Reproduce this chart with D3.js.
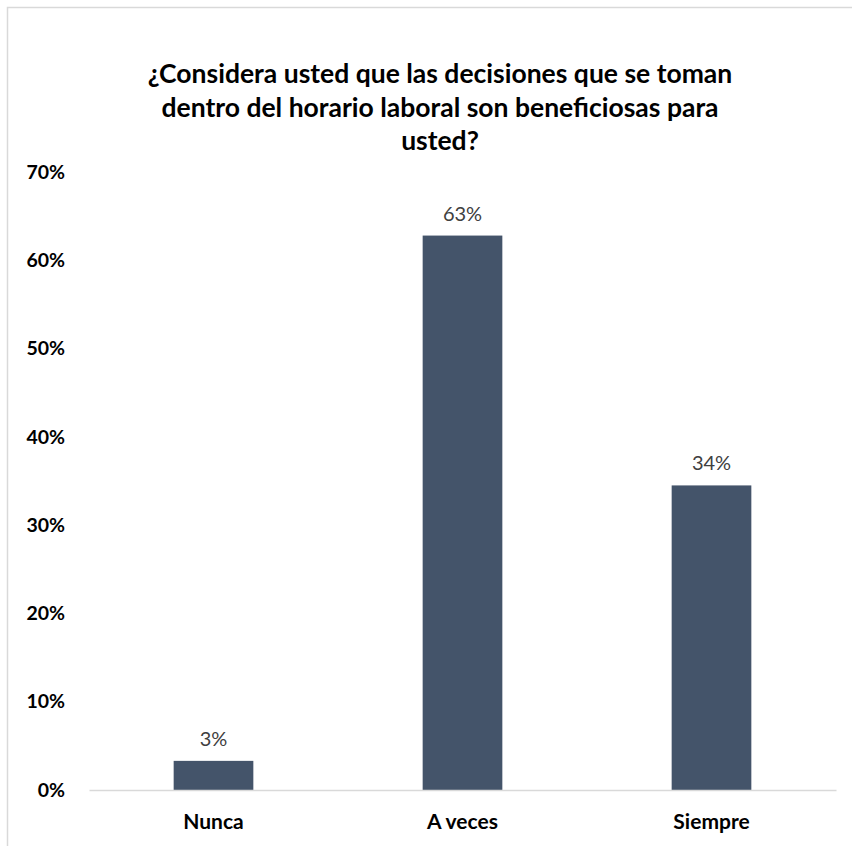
<!DOCTYPE html>
<html>
<head>
<meta charset="utf-8">
<script src="https://cdn.jsdelivr.net/npm/d3@7"></script>
<style>
  body { margin: 0; background: #fff; }
  svg text { font-family: Lato, "Open Sans", sans-serif; }
</style>
</head>
<body>
<svg id="chart" width="852" height="846"></svg>
<script>
// data
const categories = ["Nunca", "A veces", "Siempre"];
const values = [0.033, 0.628, 0.345];
const valueLabels = ["3%", "63%", "34%"];
const yTicks = [0, 0.1, 0.2, 0.3, 0.4, 0.5, 0.6, 0.7];
const titleLines = [
  "¿Considera usted que las decisiones que se toman",
  "dentro del horario laboral son beneficiosas para",
  "usted?"
];

const svg = d3.select("#chart");

// chart frame (runs off the right and bottom edges)
svg.append("rect")
  .attr("x", 7.5).attr("y", 7.5)
  .attr("width", 900).attr("height", 900)
  .attr("fill", "#fff")
  .attr("stroke", "#d9d9d9")
  .attr("stroke-width", 1.5);

// title
svg.append("g")
  .selectAll("text")
  .data(titleLines)
  .enter()
  .append("text")
  .attr("x", 440)
  .attr("y", (d, i) => 83 + i * 33.5)
  .attr("text-anchor", "middle")
  .attr("font-size", 26.5)
  .attr("font-weight", "bold")
  .attr("fill", "#000")
  .text(d => d);

let xScale = d3.scaleBand()
  .domain(categories)
  .range([89, 836])
  .paddingInner(0.68)
  .paddingOuter(0.34);

let yScale = d3.scaleLinear()
  .domain([0, 0.7])
  .range([790, 172]);

// y axis labels
let yAxis = d3.axisLeft(yScale)
  .tickValues(yTicks)
  .tickFormat(d3.format(".0%"))
  .tickSize(0)
  .tickPadding(0);

svg.append("g")
  .attr("transform", "translate(65, 0)")
  .call(yAxis)
  .call(g => g.select(".domain").remove())
  .selectAll("text")
  .attr("font-size", 19.5)
  .attr("font-weight", "bold")
  .attr("fill", "#000")
  .attr("font-family", "Lato, sans-serif");

// bars
svg.append("g")
  .selectAll("rect")
  .data(values)
  .enter()
  .append("rect")
  .attr("x", (d, i) => xScale(categories[i]))
  .attr("width", xScale.bandwidth())
  .attr("y", d => yScale(d))
  .attr("height", d => yScale(0) - yScale(d))
  .attr("fill", "#44546a");

// baseline + category labels
let xAxis = d3.axisBottom(xScale).tickSize(0).tickPadding(24);
svg.append("g")
  .attr("transform", `translate(0, ${yScale(0)})`)
  .call(xAxis)
  .call(g => g.select(".domain").attr("stroke", "#d9d9d9").attr("stroke-width", 1.5))
  .selectAll("text")
  .attr("font-size", 21)
  .attr("font-weight", "bold")
  .attr("fill", "#000")
  .attr("font-family", "Lato, sans-serif");

// data labels
svg.append("g")
  .selectAll("text")
  .data(values)
  .enter()
  .append("text")
  .attr("x", (d, i) => xScale(categories[i]) + xScale.bandwidth() / 2)
  .attr("y", d => yScale(d) - 15)
  .attr("text-anchor", "middle")
  .attr("font-size", 20)
  .attr("fill", "#404040")
  .text((d, i) => valueLabels[i]);
</script>
</body>
</html>
